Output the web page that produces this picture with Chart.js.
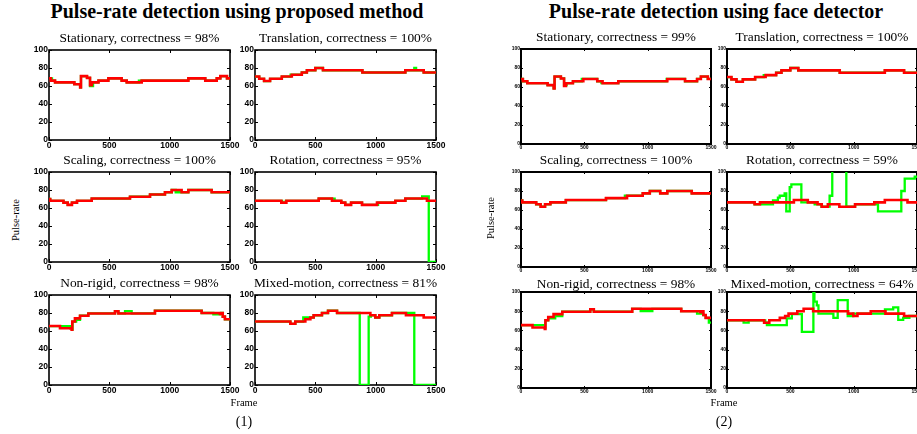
<!DOCTYPE html>
<html>
<head>
<meta charset="utf-8">
<script src="https://cdn.jsdelivr.net/npm/chart.js@4.4.1/dist/chart.umd.min.js"></script>
<style>
  html, body { margin: 0; padding: 0; background: #fff; }
  #page { position: relative; width: 917px; height: 434px; overflow: hidden; font-family: "Liberation Serif", "Times New Roman", serif; color: #000; }
  #page canvas { position: absolute; }
  .txt { position: absolute; white-space: nowrap; line-height: 1; transform: translate(-50%, -50%); z-index: 2; }
</style>
</head>
<body>
<div id="page"></div>
<script>
const scenarios = ['Stationary', 'Translation', 'Scaling', 'Rotation', 'Non-rigid', 'Mixed-motion'];
const correctnessProposed = [98, 100, 100, 95, 98, 81];
const correctnessFace = [99, 100, 100, 59, 98, 64];
const frameTicks = [0, 500, 1000, 1500];
const rateTicks = [0, 20, 40, 60, 80, 100];

// reference pulse-rate (red line): [frame, bpm] where each step starts
const stationaryRef = [[0,68.5],[15,66],[50,64],[210,62],[258,58.5],[265,71],[315,69],[340,61],[355,64],[410,66],[492,68.5],[602,66],[644,64],[768,66],[1155,68.5],[1295,66],[1390,68.5],[1420,71],[1475,68.5],[1500,68.5]];
const translationRef = [[0,70.5],[35,68],[75,65.5],[125,68],[222,70.5],[305,72.5],[388,75],[430,77.5],[500,80],[563,77.5],[890,75],[1246,77.5],[1398,75],[1500,75]];
const scalingRef = [[0,70],[10,68],[120,66],[155,63.5],[190,66],[232,68],[354,70.5],[671,72.5],[837,75],[961,77.5],[1017,80],[1099,77.5],[1155,80],[1348,77.5],[1500,77.5]];
const rotationRef = [[0,68],[218,66],[260,68],[528,70.5],[638,68],[715,66],[748,63.5],[796,66],[887,63.5],[1011,66],[1163,68],[1246,70.5],[1425,68],[1500,68]];
const nonRigidRef = [[0,65.5],[91,63],[188,61.5],[193,70.5],[215,74],[257,77],[326,79.5],[547,82],[575,79.5],[878,82.5],[1265,80],[1417,79],[1425,80],[1440,76],[1458,73],[1500,73]];
const mixedRef = [[0,70.5],[293,68],[334,70.5],[417,73],[459,75],[486,77.5],[555,80],[605,82.5],[680,80],[956,77.5],[997,75],[1030,77.5],[1135,80],[1251,77.5],[1398,75],[1500,75]];

// detected pulse-rate (green line), proposed method
const stationaryProposed = [[0,68.5],[25,66],[50,64],[210,62],[258,58.5],[265,71],[315,69],[340,60],[365,64],[410,66],[492,68.5],[602,66],[644,64],[745,66],[1155,68.5],[1295,66],[1390,68.5],[1420,71],[1475,68.5],[1500,68.5]];
const translationProposed = [[0,70.5],[35,68],[75,65.5],[125,68],[222,70.5],[295,72.5],[388,75],[430,77.5],[500,80],[563,77.5],[890,75],[1246,77.5],[1320,80],[1335,77.5],[1398,75],[1500,75]];
const scalingProposed = [[0,70],[10,68],[120,66],[155,63.5],[190,66],[232,68],[354,70.5],[671,72.5],[837,75],[961,77.5],[1017,80],[1050,77.5],[1155,80],[1348,77.5],[1500,77.5]];
const rotationProposed = [[0,68],[225,66],[255,68],[528,70.5],[660,68],[715,66],[748,63.5],[796,66],[887,63.5],[1020,66],[1163,68],[1246,70.5],[1385,73],[1440,0],[1500,0]];
const nonRigidProposed = [[0,65.5],[175,63],[190,61.5],[195,70.5],[225,72.5],[257,77],[326,79.5],[547,82],[575,79.5],[630,82],[685,79.5],[878,82.5],[1265,80],[1362,78.5],[1417,79],[1425,80],[1440,76],[1458,73],[1500,73]];
const mixedProposed = [[0,70.5],[293,68],[334,70.5],[400,75],[459,75],[486,77.5],[555,80],[605,82.5],[680,80],[868,0],[942,76],[960,77.5],[997,75],[1030,77.5],[1135,80],[1251,80],[1320,0],[1500,0]];

// detected pulse-rate (green line), face detector
const stationaryFace = [[0,68.5],[15,66],[50,64],[210,62],[258,58.5],[265,71],[315,69],[340,62],[360,64],[410,66],[480,68.5],[602,66],[635,64],[768,66],[1150,68.5],[1295,66],[1390,68.5],[1420,71],[1475,68.5],[1500,68.5]];
const translationFace = [[0,70.5],[35,68],[75,65.5],[125,68],[222,70.5],[290,72.5],[388,75],[430,77.5],[500,80],[563,77.5],[890,75],[1246,77.5],[1398,75],[1500,75]];
const scalingFace = [[0,70],[10,68],[120,66],[155,63.5],[190,66],[232,68],[354,70.5],[671,72.5],[820,75],[961,77.5],[1017,80],[1099,77.5],[1155,80],[1348,77.5],[1500,77.5]];
const rotationFace = [[0,68],[218,66],[363,70],[402,73],[416,75],[455,77.5],[468,58.5],[495,84],[508,87],[587,68],[692,66],[745,63.5],[810,75],[831,120],[942,63.5],[1011,66],[1192,58.5],[1376,80],[1403,93],[1482,95],[1500,95]];
const nonRigidFace = [[0,65.5],[190,63],[193,70.5],[215,72.5],[270,75],[326,79.5],[547,82],[575,79.5],[878,82.5],[945,80],[1037,82.5],[1265,80],[1390,77.5],[1440,76],[1458,73],[1483,68],[1500,68]];
const mixedFace = [[0,70.5],[131,68],[171,70.5],[302,68],[315,65.5],[472,72.5],[512,77],[591,58.5],[682,100],[690,90],[709,86],[722,77.5],[840,73],[874,91.5],[953,75],[997,77.5],[1247,82],[1312,84],[1352,71],[1391,73],[1440,75],[1500,75]];

const refSeries = [stationaryRef, translationRef, scalingRef, rotationRef, nonRigidRef, mixedRef];
const proposedSeries = [stationaryProposed, translationProposed, scalingProposed, rotationProposed, nonRigidProposed, mixedProposed];
const faceSeries = [stationaryFace, translationFace, scalingFace, rotationFace, nonRigidFace, mixedFace];

const panels = [
  {
    title: 'Pulse-rate detection using proposed method', titleX: 237, tag: '(1)',
    cols: [[49, 230], [255, 436]], rows: [[50, 140], [172, 262], [295, 385]],
    subY: [39, 161, 284], detected: proposedSeries, correctness: correctnessProposed,
    tickSize: 8.5, yw: 20, xh: 12, pt: 7, pr: 12, box: 1.6, tickLen: 3,
    yLabel: [16, 220], frameX: 244
  },
  {
    title: 'Pulse-rate detection using face detector', titleX: 716, tag: '(2)',
    cols: [[521, 711], [727, 917]], rows: [[49, 144], [172, 267], [292, 388]],
    subY: [38.5, 161, 285.5], detected: faceSeries, correctness: correctnessFace,
    tickSize: 5, yw: 12, xh: 8, pt: 5, pr: 8, box: 2, tickLen: 2,
    yLabel: [491, 218], frameX: 724
  }
];

const page = document.getElementById('page');

function addText(str, x, y, size, extra) {
  const el = document.createElement('div');
  el.className = 'txt';
  el.textContent = str;
  el.style.left = x + 'px';
  el.style.top = y + 'px';
  el.style.fontSize = size + 'px';
  if (extra) Object.assign(el.style, extra);
  page.appendChild(el);
  return el;
}

// axes box and inward tick marks, drawn under the lines
const frameBox = {
  id: 'frameBox',
  beforeDatasetsDraw(chart, args, opts) {
    const { ctx, chartArea: a, scales: { x, y } } = chart;
    ctx.save();
    ctx.strokeStyle = '#000';
    ctx.lineWidth = opts.width;
    ctx.strokeRect(a.left, a.top, a.right - a.left, a.bottom - a.top);
    ctx.lineWidth = 1;
    ctx.beginPath();
    x.ticks.forEach(t => {
      const px = Math.round(x.getPixelForValue(t.value)) + 0.5;
      ctx.moveTo(px, a.bottom); ctx.lineTo(px, a.bottom - opts.tick);
      ctx.moveTo(px, a.top); ctx.lineTo(px, a.top + opts.tick);
    });
    y.ticks.forEach(t => {
      const py = Math.round(y.getPixelForValue(t.value)) + 0.5;
      ctx.moveTo(a.left, py); ctx.lineTo(a.left + opts.tick, py);
      ctx.moveTo(a.right, py); ctx.lineTo(a.right - opts.tick, py);
    });
    ctx.stroke();
    ctx.restore();
  }
};

const toPoints = steps => steps.map(([x, y]) => ({ x, y }));

function makePlot(panel, i) {
  const [L, R] = panel.cols[i % 2];
  const [T, B] = panel.rows[Math.floor(i / 2)];
  const w = R - L + panel.yw + panel.pr;
  const h = B - T + panel.pt + panel.xh;
  const canvas = document.createElement('canvas');
  canvas.width = w; canvas.height = h;
  canvas.style.width = w + 'px'; canvas.style.height = h + 'px';
  canvas.style.left = (L - panel.yw) + 'px';
  canvas.style.top = (T - panel.pt) + 'px';
  page.appendChild(canvas);

  const tickFont = { family: '"Liberation Sans", Arial, sans-serif', size: panel.tickSize, weight: 'bold' };
  const chart = new Chart(canvas, {
    type: 'line',
    data: {
      datasets: [
        { data: toPoints(refSeries[i]), borderColor: '#ff0000', borderWidth: 2.6, stepped: 'before', order: 0 },
        { data: toPoints(panel.detected[i]), borderColor: '#00ff00', borderWidth: 2.3, stepped: 'before', order: 1 }
      ]
    },
    options: {
      responsive: false,
      maintainAspectRatio: false,
      animation: false,
      devicePixelRatio: 1,
      layout: { padding: { top: panel.pt, right: panel.pr, left: 0, bottom: 0 } },
      elements: { point: { radius: 0 } },
      plugins: {
        legend: { display: false },
        tooltip: { enabled: false },
        frameBox: { width: panel.box, tick: panel.tickLen }
      },
      scales: {
        x: {
          type: 'linear', min: 0, max: 1500,
          grid: { display: false, drawTicks: false, tickLength: 0 }, border: { display: false },
          afterBuildTicks: s => { s.ticks = frameTicks.map(v => ({ value: v })); },
          afterFit: s => { s.height = panel.xh; },
          ticks: { font: tickFont, color: '#000', padding: 1, maxRotation: 0, autoSkip: false, callback: v => String(v) }
        },
        y: {
          type: 'linear', min: 0, max: 100,
          grid: { display: false, drawTicks: false, tickLength: 0 }, border: { display: false },
          afterBuildTicks: s => { s.ticks = rateTicks.map(v => ({ value: v })); },
          afterFit: s => { s.width = panel.yw; },
          ticks: { font: tickFont, color: '#000', padding: 1, autoSkip: false, callback: v => String(v) }
        }
      }
    },
    plugins: [frameBox]
  });

  // pin the plot area to its place in the figure
  const a = chart.chartArea;
  canvas.style.left = (L - a.left) + 'px';
  canvas.style.top = (T - a.top) + 'px';

  const cx = (L + R) / 2;
  addText(scenarios[i] + ', correctness = ' + panel.correctness[i] + '%', cx, panel.subY[Math.floor(i / 2)] - 1.5, 13.4);
}

panels.forEach(panel => {
  addText(panel.title, panel.titleX, 11, 20, { fontWeight: 'bold' });
  for (let i = 0; i < scenarios.length; i++) makePlot(panel, i);
  addText('Pulse-rate', panel.yLabel[0], panel.yLabel[1], 10.5, { transform: 'translate(-50%, -50%) rotate(-90deg)' });
  addText('Frame', panel.frameX, 403, 10.5);
  addText(panel.tag, panel.frameX, 422, 14);
});
</script>
</body>
</html>
